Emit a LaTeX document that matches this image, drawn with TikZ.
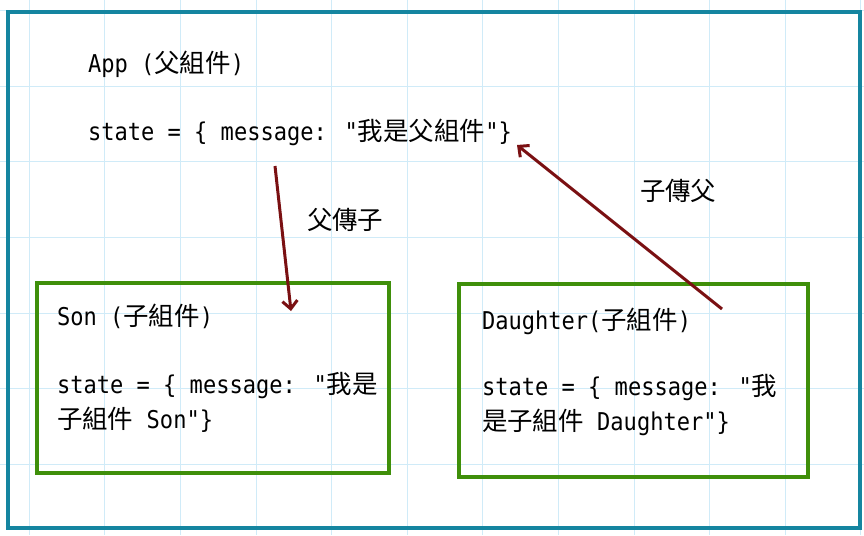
\documentclass[tikz,border=0pt]{standalone}
\usepackage{fontspec}
\usetikzlibrary{arrows.meta}
\newfontfamily\codefont[FakeStretch=0.9]{DejaVu Sans Mono}
\newfontfamily\cjk[Scale=1.04]{Noto Sans CJK TC}
\definecolor{gridblue}{HTML}{D0EBF8}
\definecolor{frameteal}{HTML}{1585A0}
\definecolor{boxgreen}{HTML}{3F8F0A}
\definecolor{passred}{HTML}{7A1012}
\tikzset{
	gridline/.style={draw=gridblue,line width=0.9pt},
	txt/.style={anchor=base west,inner sep=0,outer sep=0,font=\codefont\fontsize{24.5}{34.5}\selectfont,align=left},
	compbox/.style={draw=boxgreen,line width=3.5pt,inner sep=0,minimum width=#1},
	pass/.style={draw=passred,line width=3pt,-{Straight Barb[length=8pt,width=15pt,line width=3pt]}}
}
\begin{document}
\begin{tikzpicture}[x=1pt,y=-1pt]
	\useasboundingbox (0,0) rectangle (864,535);
	\foreach \i in {0,...,11} \draw[gridline] ({29.2+75.6*\i},0) -- ++(0,535);
	\foreach \j in {0,...,6} \draw[gridline] (0,{10.6+75.6*\j}) -- ++(864,0);
	\node[draw=frameteal,line width=4.5pt,inner sep=0,minimum width=852pt,minimum height=516pt] (app) at (433.75,270) {};
	\node[compbox=352pt,minimum height=190pt] (son) at (213,378) {};
	\node[compbox=349pt,minimum height=193pt] (daughter) at (633.5,380.5) {};
	\node[txt] (apptitle) at (88,72) {App ({\cjk 父組件})};
	\node[txt] (appstate) at (88,140) {state = \{ message: "{\cjk 我是父組件}"\}};
	\node[txt] (sontitle) at (57,325) {Son ({\cjk 子組件})};
	\node[txt] (sonstate) at (57,428) {state = \{ message: "{\cjk 我是}\\{\cjk 子組件} Son"\}};
	\node[txt] (dautitle) at (482,329) {Daughter({\cjk 子組件})};
	\node[txt] (daustate) at (482,430) {state = \{ message: "{\cjk 我}\\{\cjk 是子組件} Daughter"\}};
	\node[txt] (down) at (307,229) {{\cjk 父傳子}};
	\node[txt] (up) at (640,200) {{\cjk 子傳父}};
	\coordinate (downfrom) at (275,166);
	\coordinate (downto) at (291,311);
	\coordinate (upfrom) at (722,309);
	\coordinate (upto) at (517,145);
	\draw[pass] (downfrom) -- (downto);
	\draw[pass] (upfrom) -- (upto);
\end{tikzpicture}
\end{document}
